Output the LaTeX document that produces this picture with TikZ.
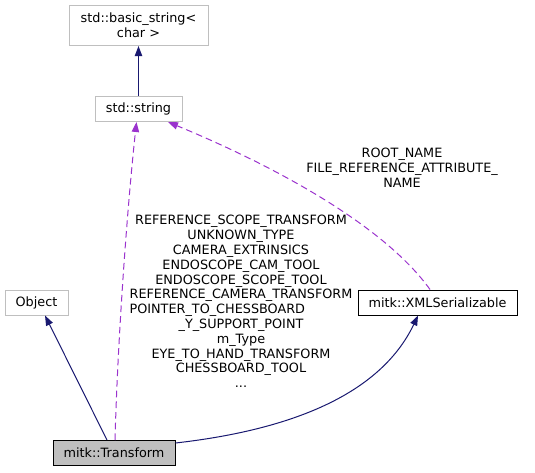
\documentclass[tikz,border=0pt]{standalone}
\usepackage{fontspec}
\setmainfont{DejaVu Sans}
\usetikzlibrary{arrows.meta}
\definecolor{edgeblue}{HTML}{191970}
\definecolor{edgepurple}{HTML}{9A32CD}
\definecolor{boxgray}{HTML}{BFBFBF}
\begin{document}
\begin{tikzpicture}[x=0.75pt, y=-0.75pt,
    font=\fontsize{9.6}{11.1}\selectfont,
    cls/.style={draw=boxgray, align=center, inner sep=0pt, line width=0.75pt, minimum height=18.75pt},
    inherit/.style={-{Triangle[length=7.5pt,width=5.5pt]}, edgeblue, line width=0.75pt},
    uses/.style={-{Triangle[length=7.5pt,width=5.5pt]}, edgepurple, line width=0.75pt, dash pattern=on 5pt off 3pt}]
    \useasboundingbox (0,0) rectangle (535,472);

    % Nodes
    \node[cls, minimum width=104.25pt, minimum height=30pt] (bstr) at (138.5,25.5) {std::basic\_string<\\char >};
    \node[cls, minimum width=65.25pt] (str) at (138.5,109) {std::string};
    \node[cls, minimum width=47.25pt] (obj) at (36.5,302.5) {Object};
    \node[cls, draw=black, minimum width=119.25pt] (xml) at (437.5,302.5) {mitk::XMLSerializable};
    \node[cls, draw=black, fill=boxgray, minimum width=91.5pt] (trans) at (114,453) {mitk::Transform};

    % Labels
    \node[align=center] (lblxml) at (402,167.5) {ROOT\_NAME\\FILE\_REFERENCE\_ATTRIBUTE\_\\NAME};
    \node[align=center] (lbltrans) at (241,301.5) {REFERENCE\_SCOPE\_TRANSFORM\\UNKNOWN\_TYPE\\CAMERA\_EXTRINSICS\\ENDOSCOPE\_CAM\_TOOL\\ENDOSCOPE\_SCOPE\_TOOL\\REFERENCE\_CAMERA\_TRANSFORM\\\rlap{POINTER\_TO\_CHESSBOARD}\phantom{REFERENCE\_CAMERA\_TRANSFORM}\\\_Y\_SUPPORT\_POINT\\m\_Type\\EYE\_TO\_HAND\_TRANSFORM\\CHESSBOARD\_TOOL\\...};

    % Edges
    \draw[inherit] (str) -- (bstr);
    \draw[inherit] ([xshift=-5.25pt]trans.north) -- ([xshift=6.4pt]obj.south);
    \draw[inherit] ([yshift=7.5pt]trans.east) .. controls (290,430) and (380,395) .. ([xshift=-14.6pt]xml.south);
    \draw[uses] ([xshift=0.75pt]trans.north) .. controls (118,330) and (128,200) .. ([xshift=-1.5pt]str.south);
    \draw[uses] ([xshift=-5.6pt]xml.north) .. controls (380,220) and (260,160) .. ([xshift=22.1pt]str.south);
\end{tikzpicture}
\end{document}
